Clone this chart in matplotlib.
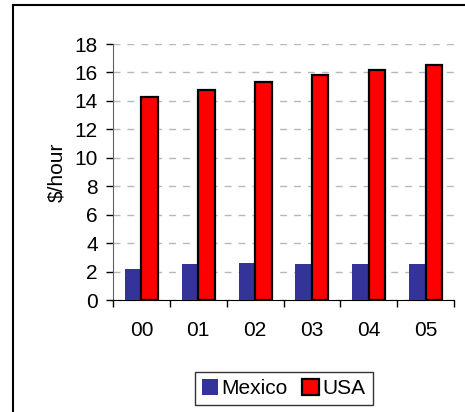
import matplotlib
matplotlib.use("Agg")
import matplotlib.pyplot as plt
from matplotlib.lines import Line2D
import numpy as np

plt.rcParams['font.family'] = ['Liberation Sans', 'DejaVu Sans']

years = ["00", "01", "02", "03", "04", "05"]
mexico = [2.2, 2.5, 2.6, 2.5, 2.5, 2.55]
usa = [14.3, 14.8, 15.3, 15.8, 16.2, 16.5]
yticks = [0, 2, 4, 6, 8, 10, 12, 14, 16, 18]

W, H = 465, 412
FS = 15
fig = plt.figure(figsize=(W / 100, H / 100), dpi=100)

# outer frame: left and top edges only
fx, fy = 12.5 / W, 1 - 4.5 / H
fig.add_artist(Line2D([fx, fx], [0.002, fy], transform=fig.transFigure,
                      color='black', linewidth=1.5, clip_on=False))
fig.add_artist(Line2D([fx, 0.998], [fy, fy], transform=fig.transFigure,
                      color='black', linewidth=1.5, clip_on=False))

ax = fig.add_axes([113 / W, 1 - 300 / H, (454 - 113) / W, (300 - 44) / H])

x = np.arange(len(years))
bw = 0.29
ax.bar(x - bw / 2, mexico, width=bw, color='#333399', edgecolor='none',
       label='Mexico', zorder=3)
ax.bar(x + bw / 2, usa, width=bw, color='#FF0000', edgecolor='black',
       linewidth=1.6, label='USA', zorder=3)

ax.set_xlim(-0.5, len(years) - 0.5)
ax.set_ylim(0, 18)
ax.set_yticks(yticks)
ax.set_yticklabels([str(v) for v in yticks])
ax.set_xticks(x)
ax.set_xticklabels(years)
ax.set_xticks(np.arange(-0.5, len(years)), minor=True)
ax.tick_params(axis='x', which='major', length=0, labelsize=FS, pad=15)
ax.tick_params(axis='x', which='minor', length=5, width=1, direction='out')
ax.tick_params(axis='y', length=5, width=1, direction='out', labelsize=FS, pad=6)

ax.yaxis.grid(True, linestyle=(0, (5, 5)), color='#b8b8b8', linewidth=1, zorder=0)
ax.set_axisbelow(True)

for s in ['top', 'right']:
    ax.spines[s].set_visible(False)
ax.spines['left'].set_color('#606060')
ax.spines['bottom'].set_color('black')

ax.set_ylabel('$/hour', fontsize=FS, labelpad=6)

leg = fig.legend(loc='center', bbox_to_anchor=(283.5 / W, 1 - 388.5 / H),
                 ncol=2, frameon=True, fancybox=False, fontsize=FS,
                 handlelength=0.8, handleheight=0.8, handletextpad=0.15,
                 columnspacing=0.7, borderpad=0.35, borderaxespad=0)
leg.get_frame().set_edgecolor('black')
leg.get_frame().set_linewidth(1)

fig.savefig('out.png', dpi=100)
